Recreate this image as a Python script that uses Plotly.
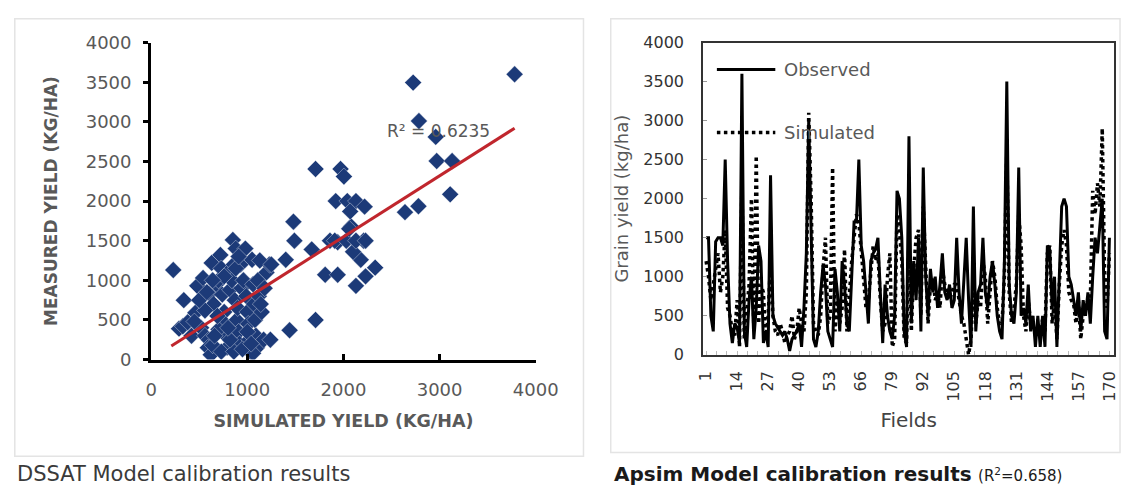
import plotly.graph_objects as go

# ---------------- Left panel data (DSSAT) ----------------
sim_yield = [230, 340, 290, 330, 380, 420, 460, 480, 540, 520, 560, 600, 590, 620, 640,
             610, 630, 650, 680, 700, 720, 730, 740, 760, 770, 780, 790, 800, 820, 840,
             850, 860, 870, 880, 890, 900, 910, 920, 930, 940, 960, 980, 990, 1000, 1010,
             1020, 1030, 1050, 1060, 1070, 1080, 1090, 1100, 1110, 1120, 1150, 1170, 1200, 1230, 1240,
             1180, 1130, 700, 660, 560, 500, 450, 730, 860, 1060, 950, 820, 690, 760, 880,
             1000, 1040, 910, 580, 640, 800, 1140, 1250, 1400, 1490, 1480, 1670, 1710, 1440, 1810,
             1940, 2130, 2230, 2330, 2180, 2100, 2210, 2080, 1940, 1860, 1910, 2030, 2130, 2230, 2060,
             1920, 2040, 2130, 2220, 2070, 1710, 1970, 2005, 2640, 2780, 2960, 2970, 3130, 3110, 2785,
             2725, 3780]
meas_yield = [1130, 750, 390, 420, 470, 300, 590, 930, 1030, 400, 300, 250, 150, 60, 180,
              830, 1220, 700, 950, 1000, 1320, 1150, 820, 600, 450, 300, 150, 1100, 880, 1000,
              1510, 1200, 750, 1400, 500, 650, 350, 200, 1200, 900, 1000, 1400, 800, 600, 450,
              250, 100, 1260, 950, 700, 500, 300, 150, 1000, 800, 600, 250, 1100, 1200, 250,
              900, 1250, 380, 300, 620, 750, 480, 100, 100, 80, 130, 250, 550, 1050, 1150,
              350, 200, 1300, 850, 1000, 400, 700, 1200, 1260, 1500, 1740, 1390, 500, 370, 1070,
              1070, 930, 1050, 1160, 1260, 1360, 1500, 1680, 1480, 1500, 1500, 1500, 1500, 1500, 1650,
              2000, 2000, 2000, 1930, 1870, 2405, 2405, 2310, 1860, 1935, 2810, 2505, 2505, 2085, 3010,
              3495, 3600]
trend_x = [210, 3780]
trend_y = [170, 2920]
r2_left = "R² = 0.6235"

# ---------------- Right panel data (APSIM) ----------------
fields = list(range(1, 171))
observed = [
    1500, 1500, 500, 300, 1450, 1500, 1500, 1400, 2500, 1200,
    400, 150, 400, 350, 150, 3600, 300, 100, 700, 1000,
    200, 600, 1400, 1200, 150, 300, 100, 2300, 500, 400,
    350, 300, 250, 300, 200, 50, 200, 250, 300, 400,
    100, 600, 1300, 3000, 1500, 200, 100, 300, 800, 1150,
    900, 300, 200, 100, 1100, 800, 300, 1200, 900, 400,
    300, 1000, 1700, 1700, 2500, 1400, 1200, 800, 400, 1200,
    1300, 1350, 1500, 800, 150, 900, 500, 300, 200, 500,
    2100, 2000, 1500, 300, 100, 2800, 400, 1200, 700, 1500,
    300, 2400, 1000, 500, 1100, 800, 1000, 600, 900, 1300,
    800, 700, 900, 600, 700, 1500, 800, 400, 1000, 1500,
    700, 100, 1900, 300, 800, 900, 1500, 800, 600, 1000,
    1200, 900, 500, 300, 200, 1200, 3500, 900, 500, 400,
    800, 2400, 500, 600, 400, 900, 300, 500, 100, 500,
    100, 500, 100, 1400, 1350, 600, 1000, 100, 1000, 1900,
    2000, 1900, 1000, 900, 700, 500, 800, 300, 700, 500,
    800, 400, 1000, 1500, 1300, 1700, 2000, 300, 200, 1500]
simulated = [
    1200, 1000, 700, 900, 1100, 1300, 800, 1000, 1600, 600,
    500, 300, 250, 700, 100, 2200, 200, 500, 900, 2000,
    300, 2550, 400, 900, 800, 200, 500, 1200, 500, 300,
    250, 400, 300, 150, 250, 300, 500, 200, 300, 600,
    400, 300, 800, 3100, 2000, 400, 300, 250, 500, 1100,
    1500, 400, 500, 2400, 300, 700, 400, 600, 1350, 300,
    800, 1200, 1500, 1800, 1700, 1300, 1000, 600, 700, 1000,
    1400, 1200, 1300, 700, 300, 400, 1000, 1300, 100, 200,
    1800, 1600, 1200, 200, 150, 1500, 300, 1100, 1500, 1600,
    500, 1900, 1100, 400, 900, 1000, 700, 800, 600, 1100,
    900, 800, 700, 800, 900, 900, 700, 500, 400, 200,
    0, 200, 900, 400, 700, 600, 1200, 1000, 400, 800,
    1200, 1000, 600, 400, 400, 1000, 2600, 800, 400, 600,
    900, 1800, 1400, 500, 300, 700, 400, 350, 300, 250,
    300, 450, 300, 1300, 1400, 400, 700, 200, 900, 1400,
    1600, 1400, 800, 700, 650, 400, 700, 200, 500, 600,
    700, 700, 2100, 1800, 2200, 1900, 2900, 1000, 600, 1300]
field_ticks = [1, 14, 27, 40, 53, 66, 79, 92, 105, 118, 131, 144, 157, 170]
yield_ticks = [0, 500, 1000, 1500, 2000, 2500, 3000, 3500, 4000]

W, H = 1144, 495
def px(x):
    return x / W
def py(y):
    return 1 - y / H

GREY = "#595959"
FONT = "DejaVu Sans"

fig = go.Figure()

# left scatter
fig.add_trace(go.Scatter(
    x=sim_yield, y=meas_yield, mode="markers", xaxis="x", yaxis="y",
    marker=dict(symbol="diamond", size=13, color="#1c3a78",
                line=dict(color="rgba(255,255,255,0.6)", width=0.6)),
    showlegend=False, hoverinfo="x+y"))
fig.add_trace(go.Scatter(
    x=trend_x, y=trend_y, mode="lines", xaxis="x", yaxis="y",
    line=dict(color="#c0262d", width=3), showlegend=False))

# right line chart
fig.add_trace(go.Scatter(
    x=fields, y=observed, mode="lines", xaxis="x2", yaxis="y2", name="Observed",
    line=dict(color="black", width=3), showlegend=False))
fig.add_trace(go.Scatter(
    x=fields, y=simulated, mode="lines", xaxis="x2", yaxis="y2", name="Simulated",
    line=dict(color="black", width=3.5, dash="dot"), showlegend=False))

fig.update_layout(
    width=W, height=H, margin=dict(l=0, r=0, t=0, b=0),
    paper_bgcolor="white", plot_bgcolor="white",
    font=dict(family=FONT, color=GREY, size=16),
    xaxis=dict(domain=[px(148), px(543)], range=[0, 4000], tickvals=yield_ticks[::2],
               showline=True, linecolor="black", linewidth=3, ticks="inside", ticklen=6,
               tickcolor="black", tickwidth=2.5, showgrid=False, zeroline=False,
               tickfont=dict(size=18, family=FONT, color=GREY), ticklabelstandoff=12,
               title=dict(text="<b>SIMULATED YIELD (KG/HA)</b>", font=dict(size=17.5, color=GREY), standoff=16),
               anchor="y"),
    yaxis=dict(domain=[py(364), py(33)], range=[0, 4000], tickvals=yield_ticks,
               showline=True, linecolor="black", linewidth=3, ticks="outside", ticklen=5,
               tickcolor="black", tickwidth=2.5, showgrid=False, zeroline=False,
               tickfont=dict(size=18, family=FONT, color=GREY), ticklabelstandoff=8,
               title=dict(text="<b>MEASURED YIELD (KG/HA)</b>", font=dict(size=17, color=GREY), standoff=24),
               anchor="x"),
    xaxis2=dict(domain=[px(715), px(1137)], range=[-0.2, 172], tickvals=field_ticks,
                showline=True, mirror=True, linecolor="#333333", linewidth=2,
                ticks="", showgrid=False, zeroline=False, tickangle=-90,
                tickfont=dict(size=16, family=FONT, color="#333333"), ticklabelstandoff=8,
                minor=dict(ticks="inside", ticklen=4, tickcolor="#bbbbbb", dtick=13/3, tick0=1),
                title=dict(text="Fields", font=dict(size=20, color="#444444"), standoff=12),
                anchor="y2"),
    yaxis2=dict(domain=[py(359), py(33)], range=[0, 4000], tickvals=yield_ticks,
                showline=True, mirror=True, linecolor="#333333", linewidth=2,
                ticks="inside", ticklen=4, tickcolor="#999999", showgrid=False, zeroline=False,
                tickfont=dict(size=16, family=FONT, color="#333333"), ticklabelstandoff=14,
                title=dict(text="Grain yield (kg/ha)", font=dict(size=18, color=GREY), standoff=10),
                anchor="x2"),
)

# panel frames (light grey)
fig.add_shape(type="rect", xref="paper", yref="paper", x0=px(8), x1=px(592), y0=py(465), y1=py(8),
              line=dict(color="#e4e4e4", width=1.5), fillcolor="rgba(0,0,0,0)", layer="below")
fig.add_shape(type="rect", xref="paper", yref="paper", x0=px(620), x1=px(1143), y0=py(461), y1=py(8),
              line=dict(color="#e4e4e4", width=1.5), fillcolor="rgba(0,0,0,0)", layer="below")

# R² label left
fig.add_annotation(x=2430, y=2890, xref="x", yref="y", text=r2_left, showarrow=False,
                   xanchor="left", yanchor="middle", font=dict(size=17, color=GREY, family=FONT))

# legend for right panel (drawn manually)
fig.add_shape(type="line", xref="paper", yref="paper", x0=px(729), x1=px(789), y0=py(61), y1=py(61),
              line=dict(color="black", width=3))
fig.add_shape(type="line", xref="paper", yref="paper", x0=px(729), x1=px(789), y0=py(127), y1=py(127),
              line=dict(color="black", width=3.5, dash="dot"))
fig.add_annotation(x=px(796), y=py(61), xref="paper", yref="paper", text="Observed", showarrow=False,
                   xanchor="left", yanchor="middle", font=dict(size=18, color=GREY, family=FONT))
fig.add_annotation(x=px(796), y=py(127), xref="paper", yref="paper", text="Simulated", showarrow=False,
                   xanchor="left", yanchor="middle", font=dict(size=18, color=GREY, family=FONT))

# captions
fig.add_annotation(x=px(8), y=py(483), xref="paper", yref="paper", text="DSSAT Model calibration results",
                   showarrow=False, xanchor="left", yanchor="middle",
                   font=dict(size=21, color="#3a3a3a", family=FONT))
fig.add_annotation(x=px(621), y=py(483), xref="paper", yref="paper",
                   text="<b>Apsim Model calibration results</b> <span style='font-size:15px'>(R<sup>2</sup>=0.658)</span>",
                   showarrow=False, xanchor="left", yanchor="middle",
                   font=dict(size=20, color="#1a1a1a", family=FONT))

fig.write_html("out.html")
